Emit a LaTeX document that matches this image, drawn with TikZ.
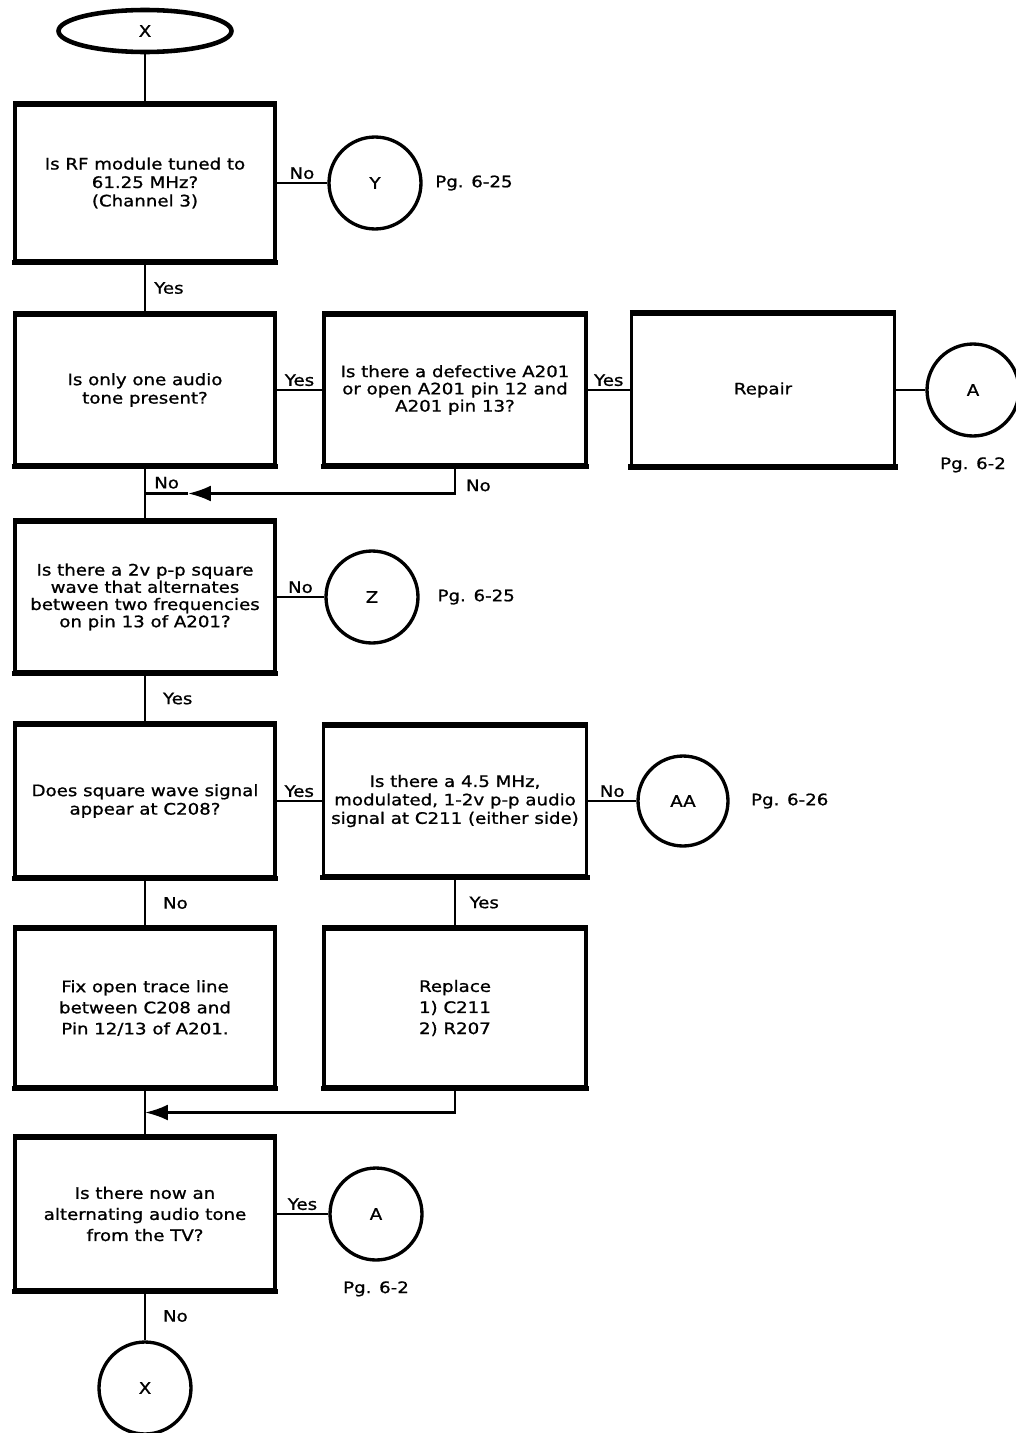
\documentclass[tikz,border=0pt]{standalone}
\usepackage{fontspec}
\setmainfont{DejaVu Sans}[FakeStretch=1.15, FakeBold=1]
\usetikzlibrary{arrows.meta,calc,shapes.geometric}

\begin{document}
\begin{tikzpicture}[
  x=0.02cm, y=-0.02cm,
  font=\fontsize{9}{10.5}\selectfont,
  box/.style={
    rectangle, draw, line width=1.8pt, fill=white,
    minimum width=5.2cm, minimum height=3cm, align=center,
    inner sep=2pt
  },
  term/.style={ellipse, draw, line width=2.6pt, minimum width=3.46cm, minimum height=0.84cm},
  conn/.style={circle, draw, line width=1.9pt, minimum size=1.84cm, inner sep=0pt},
  lbl/.style={inner sep=1.5pt},
  pg/.style={inner sep=1pt},
  flow/.style={line width=1.5pt},
  merge/.style={flow, -{Latex[length=0.46cm, width=0.32cm]}},
  tight/.style={font=\fontsize{9}{9.8}\selectfont},
  loose/.style={font=\fontsize{9}{12}\selectfont},
]
\useasboundingbox (0,0) rectangle (1016,1433);

% Entry
\node[term] (x0) at (145,31) {X};

% Left column (questions)
\node[box, minimum height=3.12cm] (q1) at (145,183) {Is RF module tuned to\\61.25 MHz?\\(Channel 3)};
\node[box] (q2) at (145,390) {Is only one audio\\tone present?};
\node[box, tight] (q4) at (145,597) {Is there a 2v p-p square\\wave that alternates\\between two frequencies\\on pin 13 of A201?};
\node[box, minimum height=3.04cm] (q5) at (145,801) {Does square wave signal\\appear at C208?};
\node[box, loose, minimum height=3.16cm] (fix) at (145,1008) {Fix open trace line\\between C208 and\\Pin 12/13 of A201.};
\node[box, loose, minimum height=3.04cm] (q7) at (145,1214) {Is there now an\\alternating audio tone\\from the TV?};

% Middle and right column
\node[box, tight, minimum width=5.24cm] (q3) at (455,390) {Is there a defective A201\\or open A201 pin 12 and\\A201 pin 13?};
\node[box, minimum width=5.26cm, minimum height=3.02cm] (rep) at (763,390) {Repair};
\node[box, minimum width=5.26cm, inner xsep=0pt] (q6) at (455,801) {Is there a 4.5 MHz,\\modulated, 1-2v p-p audio\\signal at C211 (either side)};
\node[box, loose, align=left, minimum width=5.24cm, minimum height=3.16cm] (repl) at (455,1008) {Replace\\1) C211\\2) R207};

% Off-page connectors
\node[conn] (cY) at (375,183) {Y};
\node[conn] (cA) at (973,390) {A};
\node[conn] (cZ) at (372,597) {Z};
\node[conn, minimum size=1.8cm] (cAA) at (683,801) {AA};
\node[conn] (cA2) at (376,1214) {A};
\node[conn] (cX) at (145,1388) {X};

\node[pg, right=6pt] (pgY) at (cY.east) {Pg. 6-25};
\node[pg, below=10pt] (pgA) at (cA.south) {Pg. 6-2};
\node[pg, right=9pt] (pgZ) at (cZ.east) {Pg. 6-25};
\node[pg, right=11pt] (pgAA) at (cAA.east) {Pg. 6-26};
\node[pg, below=10pt] (pgA2) at (cA2.south) {Pg. 6-2};

% heavier top and bottom edges
\foreach \b in {q1,q2,q3,rep,q4,q5,q6,fix,repl,q7}
  \draw[line width=3pt, shorten <=-0.9pt, shorten >=-0.9pt]
    (\b.north west) -- (\b.north east) (\b.south west) -- (\b.south east);

% Flow lines
\draw[flow] (x0) -- (q1);
\draw[flow] (q1.east) -- node[lbl, above] (l1) {No} (cY.west);
\draw[flow] (q1.south) -- node[lbl, right=3pt] (l2) {Yes} (q2.north);
\draw[flow] (q2.east) -- node[lbl, above] (l3) {Yes} (q3.west);
\draw[flow] (q3.east) -- node[lbl, above] (l4) {Yes} (rep.west);
\draw[flow] (rep.east) -- (cA.west);
\draw[flow] (q2.south) -- node[lbl, right=3pt, pos=0.3] (l5) {No} (q4.north);

\coordinate (m1) at ($(q2.south)!0.5!(q4.north) + (43,0)$);
\draw[merge] (q3.south) |- node[lbl, right=4pt, pos=0.35] (l6) {No} (m1);
\draw[flow] (m1) -- (q2.south |- m1);

\draw[flow] (q4.east) -- node[lbl, above] (l7) {No} (cZ.west);
\draw[flow] (q4.south) -- node[lbl, right=8pt] (l8) {Yes} (q5.north);
\draw[flow] (q5.east) -- node[lbl, above] (l9) {Yes} (q6.west);
\draw[flow] (q6.east) -- node[lbl, above] (l10) {No} (cAA.west);
\draw[flow] (q5.south) -- node[lbl, right=8pt] (l11) {No} (fix.north);
\draw[flow] (q6.south) -- node[lbl, right=6pt] (l12) {Yes} (repl.north);

\coordinate (m2) at ($(fix.south)!0.5!(q7.north)$);
\draw[merge] (repl.south) |- (m2);
\draw[flow] (fix.south) -- (q7.north);

\draw[flow] (q7.east) -- node[lbl, above] (l13) {Yes} (cA2.west);
\draw[flow] (q7.south) -- node[lbl, right=8pt] (l14) {No} (cX.north);

\end{tikzpicture}
\end{document}
